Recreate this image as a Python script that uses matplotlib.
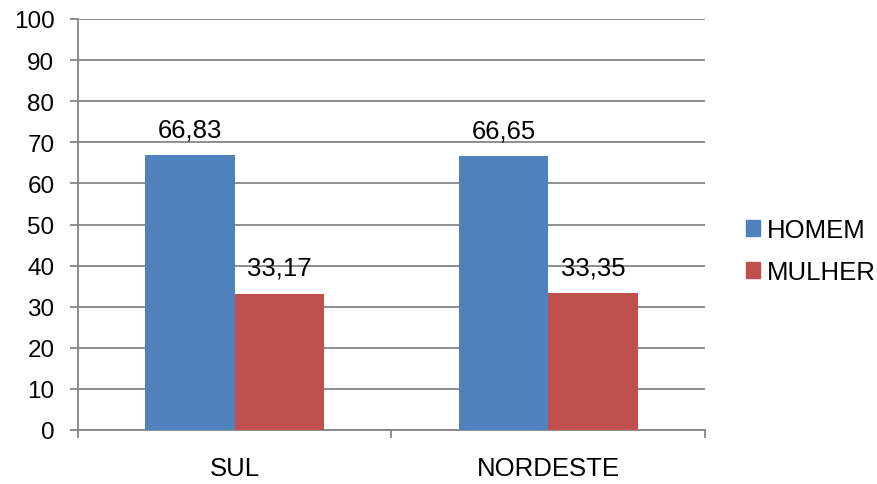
import matplotlib
matplotlib.use("Agg")
import matplotlib.pyplot as plt
import numpy as np
from matplotlib.patches import Patch

plt.rcParams['font.family'] = ['Liberation Sans', 'DejaVu Sans']

categories = ["SUL", "NORDESTE"]
series_names = ["HOMEM", "MULHER"]
homem = [66.83, 66.65]
mulher = [33.17, 33.35]
value_labels = [["66,83", "66,65"], ["33,17", "33,35"]]
colors = ["#4F81BD", "#C0504D"]
grid_color = "#868686"

fig = plt.figure(figsize=(8.78, 4.85), dpi=100)
ax = fig.add_axes([78/878, 1 - 431/485, (705-78)/878, (431-20)/485])

x = np.arange(len(categories))
width = 1/3.5
for i, (vals, labs) in enumerate(zip([homem, mulher], value_labels)):
    pos = x + (i - 0.5) * width
    ax.bar(pos, vals, width=width, color=colors[i], zorder=3)
    for p, v, t in zip(pos, vals, labs):
        ax.annotate(t, (p, v), xytext=(0, 10), textcoords="offset points",
                    ha="center", va="bottom", fontsize=18.5)

ax.set_xlim(-0.5, 1.5)
ax.set_ylim(0, 100)
ax.set_yticks(np.arange(0, 101, 10))
ax.yaxis.grid(True, color=grid_color, linewidth=1.3, zorder=0)
ax.set_axisbelow(True)
ax.tick_params(axis="y", labelsize=17.5, color=grid_color, length=6, width=1.3, pad=11)

ax.set_xticks([-0.5, 0.5, 1.5])
ax.set_xticklabels([])
ax.set_xticks(x, minor=True)
ax.set_xticklabels(categories, minor=True)
ax.tick_params(axis="x", which="major", color=grid_color, length=6, width=1.3)
ax.tick_params(axis="x", which="minor", length=0, labelsize=18.5, pad=19)

for s in ["top", "right"]:
    ax.spines[s].set_visible(False)
for s in ["left", "bottom"]:
    ax.spines[s].set_color(grid_color)
    ax.spines[s].set_linewidth(1.3)

handles = [Patch(color=c, label=n) for c, n in zip(colors, series_names)]
fig.legend(handles=handles, loc="center left", bbox_to_anchor=(723/878, 1 - 252/485),
           frameon=False, fontsize=18.5, handlelength=0.55, handleheight=0.55,
           handletextpad=0.25, labelspacing=0.7)

fig.savefig("out.png", dpi=100)
